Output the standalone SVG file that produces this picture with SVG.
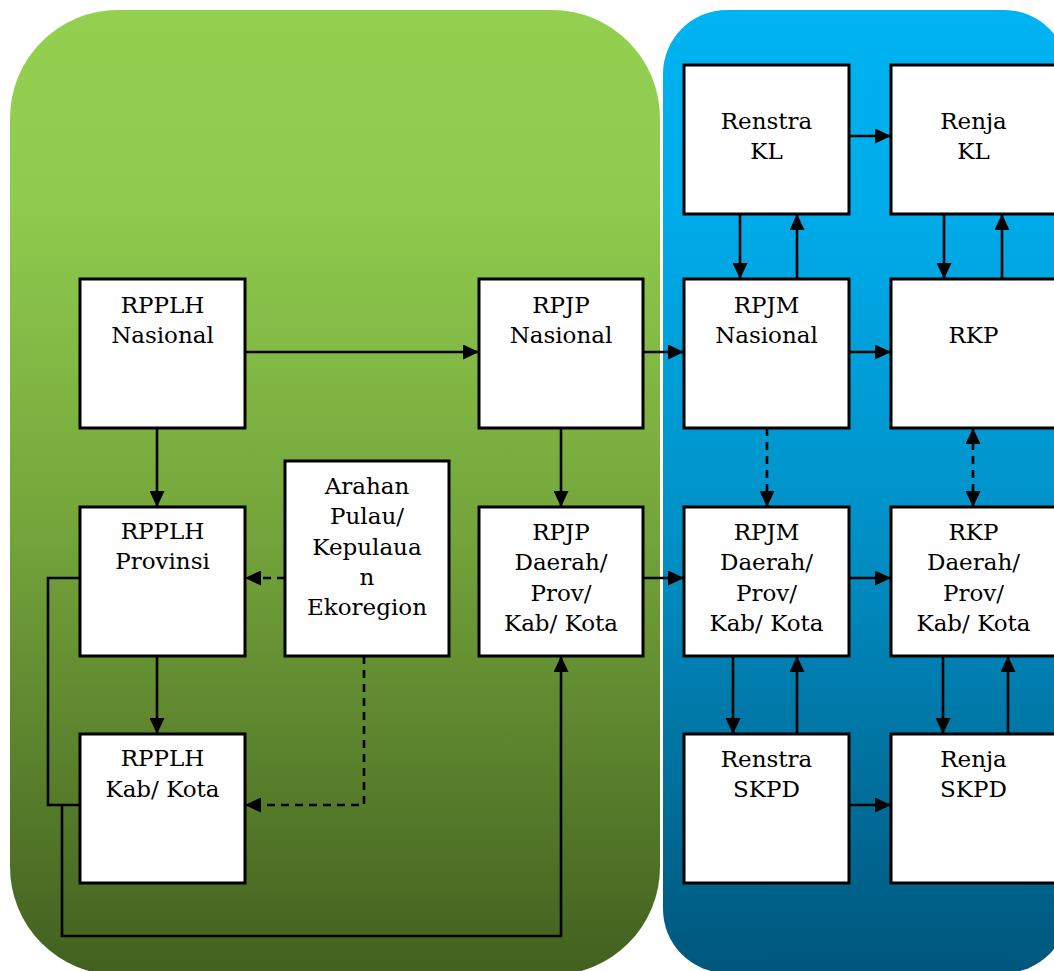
<svg xmlns="http://www.w3.org/2000/svg" width="1054" height="971" viewBox="0 0 1054 971">
<defs>
<linearGradient id="gGreen" x1="0" y1="0" x2="0" y2="1">
<stop offset="0" stop-color="#93D050"/>
<stop offset="0.2" stop-color="#8FCB4D"/>
<stop offset="0.55" stop-color="#73A33A"/>
<stop offset="1" stop-color="#42601F"/>
</linearGradient>
<linearGradient id="gBlue" x1="0" y1="0" x2="0" y2="1">
<stop offset="0" stop-color="#00B3F1"/>
<stop offset="0.2" stop-color="#00ACEA"/>
<stop offset="0.55" stop-color="#0090C6"/>
<stop offset="1" stop-color="#00567C"/>
</linearGradient>
<marker id="ah" viewBox="0 0 16 15" refX="16" refY="7.5" markerWidth="16" markerHeight="15" markerUnits="userSpaceOnUse" orient="auto-start-reverse">
<path d="M0,0 L16,7.5 L0,15 z" fill="#000" stroke="none"/>
</marker>
</defs>
<style>
.box{fill:#fff;stroke:#000;stroke-width:3}
.t{font-family:"DejaVu Serif","Liberation Serif",serif;font-size:23px;fill:#000;text-anchor:middle}
.c{fill:none;stroke:#000;stroke-width:2.6}
.d{stroke-dasharray:8 6}
.a{marker-end:url(#ah)}
.a2{marker-start:url(#ah);marker-end:url(#ah)}
</style>
<rect width="1054" height="971" fill="#fff"/>
<g id="panels">
<rect x="10" y="10" width="650" height="965" rx="108" ry="108" fill="url(#gGreen)"/>
<rect x="663" y="10" width="405" height="963" rx="64" ry="64" fill="url(#gBlue)"/>
</g>
<g id="connectors">
<path class="c a" d="M245 352 H479"/>
<path class="c a" d="M643 352 H684"/>
<path class="c a" d="M849 352 H891"/>
<path class="c a" d="M849 136 H891"/>
<path class="c a" d="M740 214 V279"/>
<path class="c a" d="M797 279 V214"/>
<path class="c a" d="M944 214 V279"/>
<path class="c a" d="M1002 279 V214"/>
<path class="c a" d="M157 428 V507"/>
<path class="c a" d="M157 656 V734"/>
<path class="c a" d="M561 428 V507"/>
<path class="c a" d="M643 578 H684"/>
<path class="c a" d="M849 578 H891"/>
<path class="c a" d="M733 656 V734"/>
<path class="c a" d="M797 734 V656"/>
<path class="c a" d="M943 656 V734"/>
<path class="c a" d="M1008 734 V656"/>
<path class="c a" d="M849 805 H891"/>
<path class="c d a" d="M285 578 H245"/>
<path class="c d a" d="M364 656 V805 H245"/>
<path class="c d a" d="M767 428 V507"/>
<path class="c d a2" d="M973 428 V507"/>
<path class="c" d="M80 578 H48 V805 H80"/>
<path class="c a" d="M62 805 V936 H561 V656"/>
</g>
<g id="renstra-kl"><rect class="box" x="684" y="65" width="165" height="149"/><text class="t" x="766.5" y="129">Renstra</text><text class="t" x="766.5" y="159">KL</text></g>
<g id="renja-kl"><rect class="box" x="891" y="65" width="165" height="149"/><text class="t" x="973.5" y="129">Renja</text><text class="t" x="973.5" y="159">KL</text></g>
<g id="rpplh-nasional"><rect class="box" x="80" y="279" width="165" height="149"/><text class="t" x="162.5" y="313">RPPLH</text><text class="t" x="162.5" y="343">Nasional</text></g>
<g id="rpjp-nasional"><rect class="box" x="479" y="279" width="164" height="149"/><text class="t" x="561" y="313">RPJP</text><text class="t" x="561" y="343">Nasional</text></g>
<g id="rpjm-nasional"><rect class="box" x="684" y="279" width="165" height="149"/><text class="t" x="766.5" y="313">RPJM</text><text class="t" x="766.5" y="343">Nasional</text></g>
<g id="rkp"><rect class="box" x="891" y="279" width="165" height="149"/><text class="t" x="973.5" y="343">RKP</text></g>
<g id="rpplh-provinsi"><rect class="box" x="80" y="507" width="165" height="149"/><text class="t" x="162.5" y="539">RPPLH</text><text class="t" x="162.5" y="569">Provinsi</text></g>
<g id="arahan"><rect class="box" x="285" y="461" width="164" height="195"/><text class="t" x="367" y="494">Arahan</text><text class="t" x="367" y="524">Pulau/</text><text class="t" x="367" y="555">Kepulaua</text><text class="t" x="367" y="585">n</text><text class="t" x="367" y="615">Ekoregion</text></g>
<g id="rpjp-daerah"><rect class="box" x="479" y="507" width="164" height="149"/><text class="t" x="561" y="540">RPJP</text><text class="t" x="561" y="570">Daerah/</text><text class="t" x="561" y="601">Prov/</text><text class="t" x="561" y="631">Kab/ Kota</text></g>
<g id="rpjm-daerah"><rect class="box" x="684" y="507" width="165" height="149"/><text class="t" x="766.5" y="540">RPJM</text><text class="t" x="766.5" y="570">Daerah/</text><text class="t" x="766.5" y="601">Prov/</text><text class="t" x="766.5" y="631">Kab/ Kota</text></g>
<g id="rkp-daerah"><rect class="box" x="891" y="507" width="165" height="149"/><text class="t" x="973.5" y="540">RKP</text><text class="t" x="973.5" y="570">Daerah/</text><text class="t" x="973.5" y="601">Prov/</text><text class="t" x="973.5" y="631">Kab/ Kota</text></g>
<g id="rpplh-kab"><rect class="box" x="80" y="734" width="165" height="149"/><text class="t" x="162.5" y="766">RPPLH</text><text class="t" x="162.5" y="797">Kab/ Kota</text></g>
<g id="renstra-skpd"><rect class="box" x="684" y="734" width="165" height="149"/><text class="t" x="766.5" y="767">Renstra</text><text class="t" x="766.5" y="797">SKPD</text></g>
<g id="renja-skpd"><rect class="box" x="891" y="734" width="165" height="149"/><text class="t" x="973.5" y="767">Renja</text><text class="t" x="973.5" y="797">SKPD</text></g>
</svg>
